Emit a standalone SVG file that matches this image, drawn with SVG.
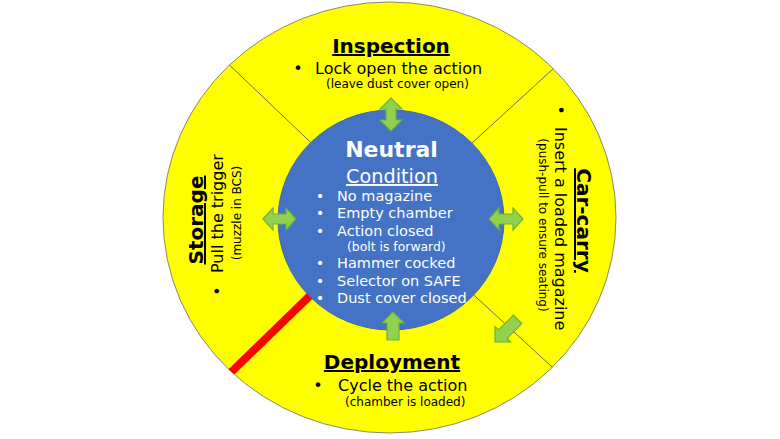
<svg xmlns="http://www.w3.org/2000/svg" width="780" height="439" viewBox="0 0 780 439">
<style>
text{font-family:"DejaVu Sans",Verdana,sans-serif;fill:#000}
.h{font-weight:bold;font-size:20px;text-decoration:underline}
.b{font-size:16px}
.s{font-size:12px}
.w{fill:#fff}
.nb{font-size:14.5px;fill:#fff}
.arr{fill:#92D050;stroke:#6BB13A;stroke-width:1.2;stroke-linejoin:miter}
.div{stroke:#6e6e40;stroke-width:1}
</style>
<defs>
<clipPath id="outerClip"><ellipse cx="389.5" cy="217.5" rx="226.5" ry="215.5"/></clipPath>
</defs>
<rect width="780" height="439" fill="#fff"/>
<g id="ring">
<ellipse cx="389.5" cy="217.5" rx="226.5" ry="215.5" fill="#FFFF00" stroke="#8a8a6a" stroke-width="1"/>
</g>
<g id="connectors" clip-path="url(#outerClip)">
<line class="div" x1="390" y1="218" x2="220" y2="56"/>
<line class="div" x1="390" y1="218" x2="566" y2="57"/>
<line class="div" x1="390" y1="218" x2="564" y2="378"/>
<line x1="390" y1="218" x2="222" y2="381" stroke="#FF0000" stroke-width="8"/>
</g>
<g id="neutral">
<ellipse cx="391" cy="220" rx="113" ry="110" fill="#4472C4" stroke="#3f68b0" stroke-width="1"/>
<text x="391.5" y="157" text-anchor="middle" class="w" font-weight="bold" font-size="22">Neutral</text>
<text x="392" y="183" text-anchor="middle" class="w" font-size="19.3" text-decoration="underline">Condition</text>
<text class="nb" x="320" y="201" text-anchor="middle">•</text><text class="nb" x="337" y="201">No magazine</text>
<text class="nb" x="320" y="218" text-anchor="middle">•</text><text class="nb" x="337" y="218">Empty chamber</text>
<text class="nb" x="320" y="236" text-anchor="middle">•</text><text class="nb" x="337" y="236">Action closed</text>
<text x="347" y="251" class="w" font-size="12.4">(bolt is forward)</text>
<text class="nb" x="320" y="268" text-anchor="middle">•</text><text class="nb" x="337" y="268">Hammer cocked</text>
<text class="nb" x="320" y="286" text-anchor="middle">•</text><text class="nb" x="337" y="286">Selector on SAFE</text>
<text class="nb" x="320" y="303" text-anchor="middle">•</text><text class="nb" x="337" y="303">Dust cover closed</text>
</g>
<g id="inspection">
<text class="h" x="391" y="53" text-anchor="middle">Inspection</text>
<text class="b" x="298" y="74" text-anchor="middle">•</text>
<text class="b" x="315" y="74">Lock open the action</text>
<text class="s" x="326" y="88">(leave dust cover open)</text>
</g>
<g id="deployment">
<text class="h" x="392" y="369" text-anchor="middle">Deployment</text>
<text class="b" x="318" y="391" text-anchor="middle">•</text>
<text class="b" x="338" y="391">Cycle the action</text>
<text class="s" x="345" y="406">(chamber is loaded)</text>
</g>
<g id="storage">
<text class="h" transform="translate(203,220) rotate(-90)" text-anchor="middle">Storage</text>
<text class="b" transform="translate(223,291) rotate(-90)" text-anchor="middle">•</text>
<text class="b" transform="translate(223,273) rotate(-90)">Pull the trigger</text>
<text class="s" transform="translate(241,213) rotate(-90)" text-anchor="middle">(muzzle in BCS)</text>
</g>
<g id="car-carry">
<text class="h" transform="translate(577,220.5) rotate(90)" text-anchor="middle">Car-carry</text>
<text class="b" transform="translate(555,110) rotate(90)" text-anchor="middle">•</text>
<text class="b" transform="translate(555,127) rotate(90)">Insert a loaded magazine</text>
<text class="s" transform="translate(539,225) rotate(90)" text-anchor="middle">(push-pull to ensure seating)</text>
</g>
<g id="arrows">
<polygon class="arr" points="391,98 402,109 396,109 396,120 402,120 391,131 380,120 386,120 386,109 380,109"/>
<polygon class="arr" points="263,219 273,208 273,214 286,214 286,208 296,219 286,230 286,224 273,224 273,230"/>
<polygon class="arr" points="489,219 499,208 499,214 513,214 513,208 523,219 513,230 513,224 499,224 499,230"/>
<polygon class="arr" points="393,312 404,323 399,323 399,340 387,340 387,323 382,323"/>
<polygon class="arr" transform="translate(495,342) rotate(135)" points="0,0 -11,-11 -11,-6 -32,-6 -32,6 -11,6 -11,11"/>
</g>
</svg>
